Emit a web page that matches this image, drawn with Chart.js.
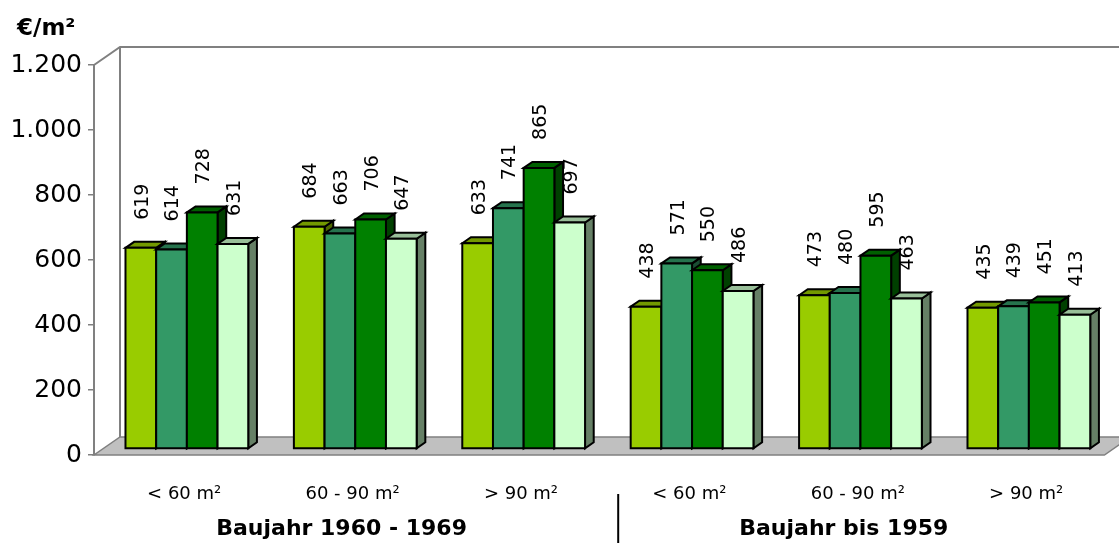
<!DOCTYPE html>
<html lang="de">
<head>
<meta charset="utf-8">
<title>Mietpreise nach Baujahr und Wohnungsgröße</title>
<script src="https://cdn.jsdelivr.net/npm/chart.js@4.4.1/dist/chart.umd.min.js"></script>
<style>
  html, body { margin: 0; padding: 0; background: #fff; }
  canvas { display: block; }
</style>
</head>
<body>
<canvas id="chart" width="1119" height="543"></canvas>
<script>
// Wohnungsgrößen je Baujahresgruppe
const categories = ['< 60 m²', '60 - 90 m²', '> 90 m²', '< 60 m²', '60 - 90 m²', '> 90 m²'];
const groupLabels = ['Baujahr 1960 - 1969', 'Baujahr bis 1959'];

// Werte in €/m² – vier Reihen je Größenklasse
const series1 = [619, 684, 633, 438, 473, 435];
const series2 = [614, 663, 741, 571, 480, 439];
const series3 = [728, 706, 865, 550, 595, 451];
const series4 = [631, 647, 697, 486, 463, 413];

const seriesColors = ['#99CC00', '#339966', '#008000', '#CCFFCC'];
const yTicks = [0, 200, 400, 600, 800, 1000, 1200];
const yUnit = '€/m²';

// 3D-Geometrie: Bodentiefe und Lage/Tiefe der Säulen darin
const FLOOR_DX = 26, FLOOR_DY = -18;
const BAR_OX = FLOOR_DX / 3, BAR_OY = FLOOR_DY / 3;
const BAR_DX = FLOOR_DX / 3, BAR_DY = FLOOR_DY / 3;

const FONT = '"DejaVu Sans", "Liberation Sans", sans-serif';

function shade(hex, f) {
  const n = parseInt(hex.slice(1), 16);
  const r = Math.round(((n >> 16) & 255) * f);
  const g = Math.round(((n >> 8) & 255) * f);
  const b = Math.round((n & 255) * f);
  return `rgb(${r},${g},${b})`;
}

function poly(ctx, pts, fill) {
  ctx.beginPath();
  ctx.moveTo(pts[0][0], pts[0][1]);
  for (let i = 1; i < pts.length; i++) ctx.lineTo(pts[i][0], pts[i][1]);
  ctx.closePath();
  ctx.fillStyle = fill;
  ctx.fill();
  ctx.stroke();
}

function thousands(v) {
  return String(v).replace(/\B(?=(\d{3})+(?!\d))/g, '.');
}

// Boden, Rückwand und 3D-Säulen (von links nach rechts, damit Verdeckung stimmt)
const bars3d = {
  id: 'bars3d',
  beforeDatasetsDraw(chart) {
    const ctx = chart.ctx;
    const { left, right, top, bottom } = chart.chartArea;
    ctx.save();

    // Boden
    ctx.lineWidth = 1.5;
    ctx.strokeStyle = '#808080';
    poly(ctx, [[left, bottom], [right, bottom], [right + FLOOR_DX, bottom + FLOOR_DY], [left + FLOOR_DX, bottom + FLOOR_DY]], '#C0C0C0');

    // Rückwand
    ctx.lineWidth = 2;
    ctx.beginPath();
    ctx.moveTo(left, top);
    ctx.lineTo(left + FLOOR_DX, top + FLOOR_DY);
    ctx.lineTo(chart.width + 5, top + FLOOR_DY);
    ctx.moveTo(left + FLOOR_DX, top + FLOOR_DY);
    ctx.lineTo(left + FLOOR_DX, bottom + FLOOR_DY);
    ctx.stroke();

    // Säulen
    ctx.lineWidth = 2;
    ctx.strokeStyle = '#000';
    ctx.lineJoin = 'miter';
    const nSets = chart.data.datasets.length;
    chart.data.labels.forEach((_, i) => {
      for (let d = 0; d < nSets; d++) {
        const el = chart.getDatasetMeta(d).data[i];
        const { x, y, base, width } = el.getProps(['x', 'y', 'base', 'width'], true);
        const col = chart.data.datasets[d].backgroundColor;
        const l = x - width / 2 + BAR_OX, r = x + width / 2 + BAR_OX;
        const t = y + BAR_OY, b = base + BAR_OY;
        poly(ctx, [[r, t], [r + BAR_DX, t + BAR_DY], [r + BAR_DX, b + BAR_DY], [r, b]], shade(col, 0.5));
        poly(ctx, [[l, t], [l + BAR_DX, t + BAR_DY], [r + BAR_DX, t + BAR_DY], [r, t]], shade(col, 0.75));
        poly(ctx, [[l, t], [r, t], [r, b], [l, b]], col);
      }
    });

    // Wertbeschriftungen, senkrecht
    ctx.fillStyle = '#000';
    ctx.font = `19px ${FONT}`;
    ctx.textAlign = 'left';
    ctx.textBaseline = 'middle';
    chart.data.datasets.forEach((ds, d) => {
      chart.getDatasetMeta(d).data.forEach((el, i) => {
        const { x, y } = el.getProps(['x', 'y'], true);
        ctx.save();
        ctx.translate(x + BAR_OX + 2, y + BAR_OY - 28);
        ctx.rotate(-Math.PI / 2);
        ctx.fillText(String(ds.data[i]), 0, 0);
        ctx.restore();
      });
    });

    ctx.restore();
    return false;
  },
  afterDraw(chart) {
    const ctx = chart.ctx;
    const xs = chart.scales.x;
    ctx.save();
    ctx.fillStyle = '#000';

    // Einheit über der y-Achse
    ctx.font = `bold 23px ${FONT}`;
    ctx.textAlign = 'left';
    ctx.textBaseline = 'alphabetic';
    ctx.fillText(yUnit, 17, 35);

    // Baujahresgruppen
    ctx.font = `bold 22px ${FONT}`;
    ctx.textAlign = 'center';
    ctx.textBaseline = 'middle';
    ctx.fillText(groupLabels[0], xs.getPixelForValue(1) - 5, 529);
    ctx.fillText(groupLabels[1], xs.getPixelForValue(4) - 8, 529);

    // Trennlinie zwischen den Gruppen
    const sep = (xs.getPixelForValue(2) + xs.getPixelForValue(3)) / 2 + 19;
    ctx.strokeStyle = '#000';
    ctx.lineWidth = 2;
    ctx.beginPath();
    ctx.moveTo(sep, 494);
    ctx.lineTo(sep, 543);
    ctx.stroke();
    ctx.restore();
  }
};

new Chart(document.getElementById('chart'), {
  type: 'bar',
  data: {
    labels: categories,
    datasets: [series1, series2, series3, series4].map((values, k) => ({
      data: values,
      backgroundColor: seriesColors[k],
      borderColor: '#000',
      borderWidth: 0,
      categoryPercentage: 0.729,
      barPercentage: 1
    }))
  },
  options: {
    responsive: false,
    devicePixelRatio: 1,
    animation: false,
    layout: { padding: { top: 65, right: 14.6, left: 0, bottom: 0 } },
    plugins: {
      legend: { display: false },
      tooltip: { enabled: false },
      title: { display: false }
    },
    scales: {
      x: {
        grid: { display: false, drawTicks: false },
        border: { display: false },
        ticks: {
          color: '#000',
          font: { family: FONT, size: 18 },
          padding: 29,
          labelOffset: 6,
          maxRotation: 0,
          autoSkip: false
        },
        afterFit(scale) { scale.height = 88; }
      },
      y: {
        min: yTicks[0],
        max: yTicks[yTicks.length - 1],
        afterBuildTicks(scale) { scale.ticks = yTicks.map(v => ({ value: v })); },
        grid: {
          drawOnChartArea: false,
          drawTicks: true,
          tickLength: 6,
          color: '#808080',
          lineWidth: 1.5
        },
        border: { display: true, color: '#808080', width: 2 },
        ticks: {
          color: '#000',
          font: { family: FONT, size: 25 },
          padding: 6,
          callback: v => thousands(v)
        },
        afterFit(scale) { scale.width = 94; }
      }
    }
  },
  plugins: [bars3d]
});
</script>
</body>
</html>
